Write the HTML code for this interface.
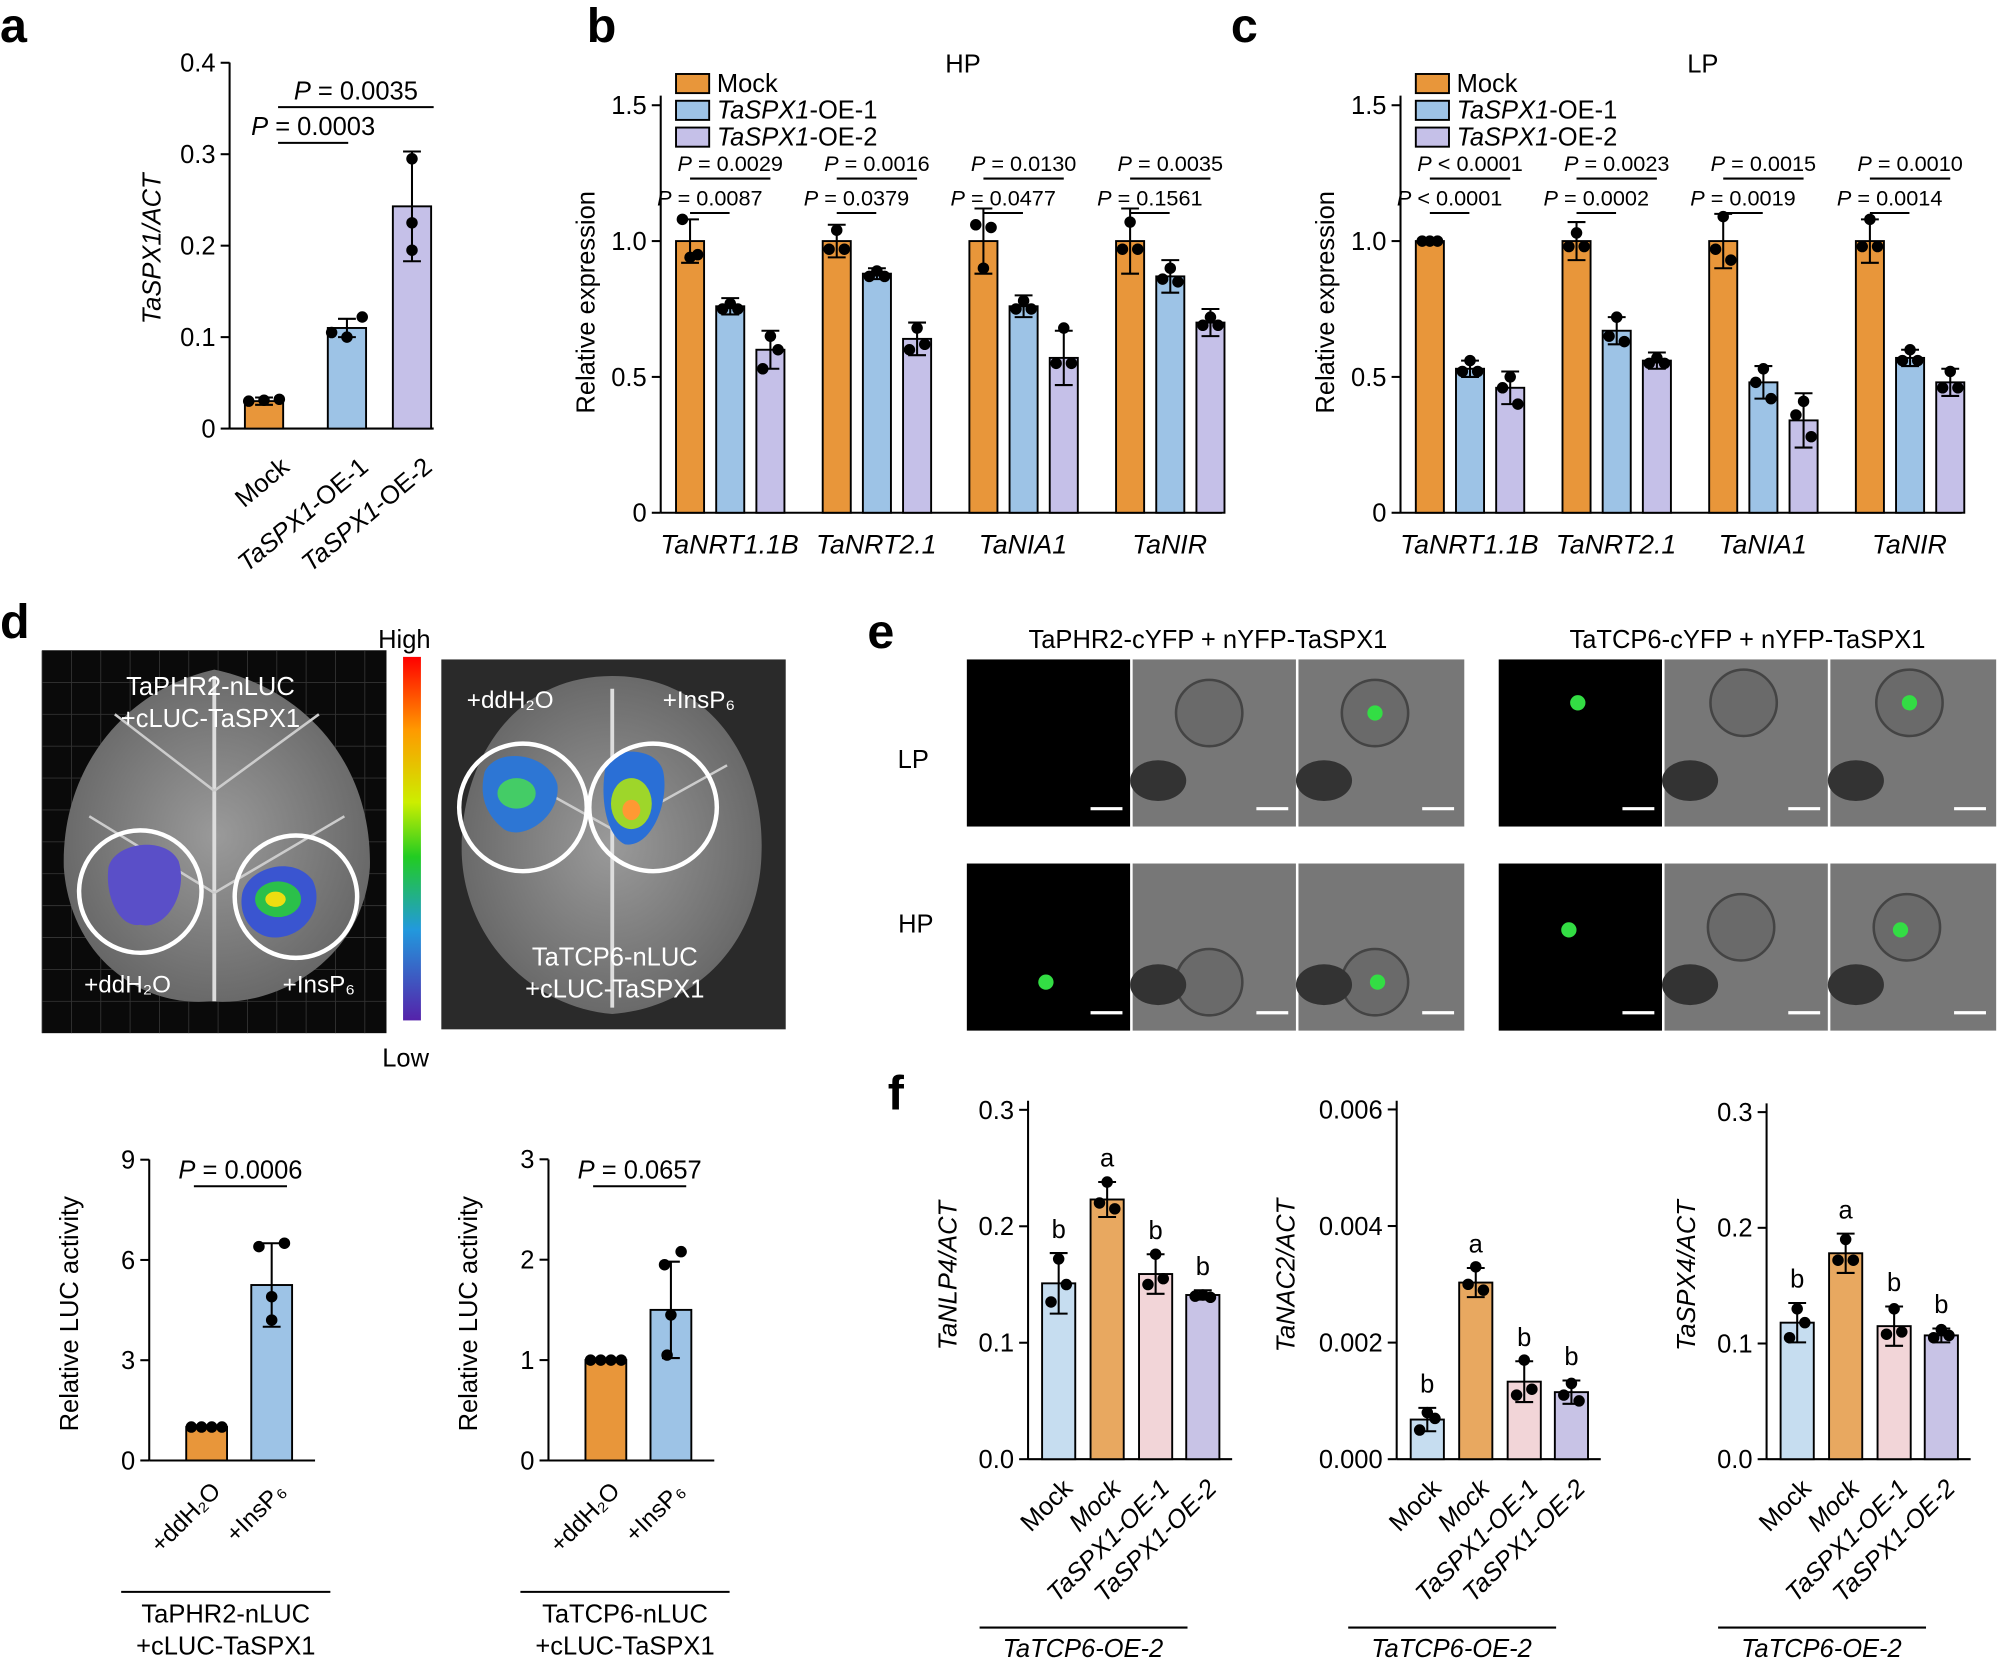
<!DOCTYPE html>
<html><head><meta charset="utf-8">
<style>
html,body{margin:0;padding:0;background:#fff;}
svg{display:block;font-family:"Liberation Sans",Arial,sans-serif;}
</style></head><body>
<div id="wrap"></div>
<script>
var h='';
var OR='#E8963A',BL='#9DC3E6',LV='#C5C0E8',FB='#C6DDF0',FO='#E8A860',FP='#F2D5D8',FL='#C8C3E6';
function t(x,y,s,sz,opt){opt=opt||{};h+='<text x="'+x+'" y="'+y+'" font-size="'+sz+'"'+(opt.a?' text-anchor="'+opt.a+'"':'')+(opt.w?' font-weight="bold"':'')+(opt.i?' font-style="italic"':'')+(opt.r?' transform="rotate('+opt.r+' '+x+' '+y+')"':'')+(opt.f?' fill="'+opt.f+'"':'')+'>'+s+'</text>';}
function L(x1,y1,x2,y2,w,c){h+='<line x1="'+x1+'" y1="'+y1+'" x2="'+x2+'" y2="'+y2+'" stroke="'+(c||'#000')+'" stroke-width="'+(w||1.6)+'"/>';}
function R(x,y,w,hh,f,s){h+='<rect x="'+x+'" y="'+y+'" width="'+w+'" height="'+hh+'" fill="'+f+'"'+(s?' stroke="#000" stroke-width="1.5"':'')+'/>';}
function C(x,y,r,f){h+='<circle cx="'+x+'" cy="'+y+'" r="'+r+'" fill="'+(f||'#000')+'"/>';}
function bar(cx,w,y0,sc,v,e,col,dots){var y=y0-v*sc;R(cx-w/2,y,w,y0-y,col,1);
 var ey=e*sc;if(ey>0){L(cx,y-ey,cx,y+ey);L(cx-7,y-ey,cx+7,y-ey);L(cx-7,y+ey,cx+7,y+ey);}
 if(dots){for(var j=0;j<dots.length;j++){C(cx+dots[j][0],y0-dots[j][1]*sc,4.5);}}}
function yaxis(x,y0,sc,ticks,labs,sz,ytop){L(x,y0,x,ytop);for(var i=0;i<ticks.length;i++){var y=y0-ticks[i]*sc;L(x-7,y,x,y);t(x-11,y+7,labs[i],sz,{a:'end'});}}
function sig(x1,x2,y,txt,sz){L(x1,y,x2,y);t((x1+x2)/2,y-6,txt,sz,{a:'middle'});}
var P='<tspan font-style="italic">P</tspan>';
var IT=function(s){return '<tspan font-style="italic">'+s+'</tspan>';};
function safe(f){try{f();}catch(e){}}

safe(function(){
t(0,33,'a',38,{w:1});t(460,33,'b',38,{w:1});t(965,33,'c',38,{w:1});t(0,500,'d',38,{w:1});t(680,508,'e',38,{w:1});t(696,870,'f',38,{w:1});
});
// a
safe(function(){var x=180,y0=336,sc=717;yaxis(x,y0,sc,[0,.1,.2,.3,.4],['0','0.1','0.2','0.3','0.4'],20,49);L(x,y0,340,y0);
bar(207,30,y0,sc,.03,.004,OR,[[-12,.03],[0,.031],[12,.032]]);
bar(272,30,y0,sc,.11,.01,BL,[[-12,.105],[0,.1],[12,.122]]);
bar(323,30,y0,sc,.243,.06,LV,[[0,.295],[0,.225],[0,.195]]);
sig(218,273,112,P+' = 0.0003',20);sig(218,340,84,P+' = 0.0035',20);
t(126,195,'TaSPX1/ACT',20,{a:'middle',r:-90,i:1});
t(228,368,'Mock',20,{a:'end',r:-40});t(290,368,IT('TaSPX1')+'-OE-1',20,{a:'end',r:-40});t(340,368,IT('TaSPX1')+'-OE-2',20,{a:'end',r:-40});});
// b,c
function grp(x,cen,vals,errs,title,sigs,dotsAll){var y0=402,sc=213;yaxis(x,y0,sc,[0,.5,1,1.5],['0','0.5','1.0','1.5'],20,75);L(x,y0,x+440,y0);
 t(x+237,57,title,20,{a:'middle'});t(x-52,237,'Relative expression',20,{a:'middle',r:-90});
 R(x+12,58,26,15,OR,1);t(x+44,72,'Mock',20);R(x+12,79,26,15,BL,1);t(x+44,93,IT('TaSPX1')+'-OE-1',20);R(x+12,100,26,15,LV,1);t(x+44,114,IT('TaSPX1')+'-OE-2',20);
 var names=['TaNRT1.1B','TaNRT2.1','TaNIA1','TaNIR'];var cols=[OR,BL,LV];
 for(var i=0;i<cen.length;i++){var c=cen[i];for(var k=0;k<3;k++){bar(c+k*31.5,22,y0,sc,vals[i][k],errs[i][k],cols[k],dotsAll[i][k]);}
  t(c+31,434,names[i],21,{a:'middle',i:1});
  sig(c,c+63,140,P+sigs[i][0],17);sig(c,c+31,167,P+sigs[i][1],17);}}
safe(function(){grp(518,[541,656,771,886],[[1,.76,.60],[1,.88,.64],[1,.76,.57],[1,.87,.70]],[[.08,.03,.07],[.06,.02,.06],[.12,.04,.1],[.12,.06,.05]],'HP',
 [[' = 0.0029',' = 0.0087'],[' = 0.0016',' = 0.0379'],[' = 0.0130',' = 0.0477'],[' = 0.0035',' = 0.1561']],
 [[[[-6,1.08],[6,.95],[0,.94]],[[0,.77],[6,.75],[-6,.75]],[[0,.65],[-6,.53],[6,.6]]],
  [[[0,1.04],[-6,.97],[6,.97]],[[0,.89],[-6,.87],[6,.87]],[[0,.68],[6,.62],[-6,.6]]],
  [[[-6,1.06],[6,1.05],[0,.9]],[[0,.78],[-6,.75],[6,.75]],[[0,.68],[-6,.55],[6,.55]]],
  [[[0,1.07],[-6,.97],[6,.97]],[[0,.9],[-6,.86],[6,.85]],[[0,.72],[-6,.69],[6,.69]]]]);});
safe(function(){grp(1098,[1121,1236,1351,1466],[[1,.53,.46],[1,.67,.56],[1,.48,.34],[1,.57,.48]],[[.01,.03,.06],[.07,.05,.03],[.1,.06,.1],[.08,.03,.05]],'LP',
 [[' &lt; 0.0001',' &lt; 0.0001'],[' = 0.0023',' = 0.0002'],[' = 0.0015',' = 0.0019'],[' = 0.0010',' = 0.0014']],
 [[[[-6,1.0],[0,1.0],[6,1.0]],[[0,.56],[-6,.52],[6,.52]],[[0,.5],[-6,.46],[6,.4]]],
  [[[0,1.03],[-6,.98],[6,.98]],[[0,.72],[-6,.65],[6,.63]],[[0,.57],[-6,.55],[6,.55]]],
  [[[0,1.09],[-6,.97],[6,.93]],[[0,.53],[-6,.48],[6,.42]],[[0,.41],[-6,.36],[6,.28]]],
  [[[0,1.08],[-6,.98],[6,.98]],[[0,.6],[-6,.56],[6,.56]],[[0,.52],[-6,.46],[6,.46]]]]);});
// d images
safe(function(){
R(33,510,270,300,'#0a0a0a');
for(var i=0;i<12;i++){L(33+i*23,510,33+i*23,810,0.7,'#333');L(33,510+i*25,303,510+i*25,0.7,'#333');}
h+='<path d="M168,525 C100,540 48,600 50,680 C55,750 110,790 165,785 C220,790 285,750 290,680 C292,600 240,540 168,525 Z" fill="url(#leaf)"/>';
L(168,530,168,785,3,'#ddd');L(168,620,90,560,2,'#ccc');L(168,620,250,560,2,'#ccc');L(168,700,70,640,2,'#ccc');L(168,700,270,640,2,'#ccc');
h+='<path d="M85,680 C90,660 130,655 140,675 C148,700 130,730 110,725 C95,728 82,705 85,680Z" fill="#5a4fc8"/>';
h+='<path d="M190,700 C195,680 230,670 245,690 C255,710 240,735 215,735 C200,735 186,720 190,700Z" fill="#3a55d0"/><ellipse cx="218" cy="705" rx="18" ry="14" fill="#2bc04a"/><ellipse cx="216" cy="705" rx="8" ry="6" fill="#eedd11"/>';
h+='<circle cx="110" cy="699" r="48" fill="none" stroke="#fff" stroke-width="3.5"/><circle cx="232" cy="703" r="48" fill="none" stroke="#fff" stroke-width="3.5"/>';
t(165,545,'TaPHR2-nLUC',20,{a:'middle',f:'#fff'});t(165,570,'+cLUC-TaSPX1',20,{a:'middle',f:'#fff'});
t(100,778,'+ddH₂O',19,{a:'middle',f:'#fff'});t(250,778,'+InsP₆',19,{a:'middle',f:'#fff'});
R(346,517,270,290,'#2a2a2a');
h+='<path d="M480,530 C400,530 360,600 362,670 C365,740 420,790 480,795 C545,790 595,740 597,670 C600,600 560,530 480,530 Z" fill="url(#leaf)"/>';
L(480,540,480,790,3,'#ddd');L(480,650,390,600,2,'#ccc');L(480,650,570,600,2,'#ccc');
h+='<path d="M380,605 C390,585 430,590 437,615 C440,640 410,660 395,650 C382,640 375,625 380,605Z" fill="#2d76d4"/><ellipse cx="405" cy="622" rx="15" ry="12" fill="#44cc66"/>';
h+='<path d="M475,600 C480,585 515,585 520,605 C525,630 510,665 490,662 C475,655 470,625 475,600Z" fill="#2a6fd6"/><ellipse cx="495" cy="630" rx="16" ry="20" fill="#9ed62a"/><ellipse cx="495" cy="635" rx="7" ry="8" fill="#ff9933"/>';
h+='<circle cx="410" cy="633" r="50" fill="none" stroke="#fff" stroke-width="3.5"/><circle cx="512" cy="633" r="50" fill="none" stroke="#fff" stroke-width="3.5"/>';
t(400,555,'+ddH₂O',19,{a:'middle',f:'#fff'});t(548,555,'+InsP₆',19,{a:'middle',f:'#fff'});
t(482,757,'TaTCP6-nLUC',20,{a:'middle',f:'#fff'});t(482,782,'+cLUC-TaSPX1',20,{a:'middle',f:'#fff'});
R(316,515,14,285,'url(#cb)');t(317,508,'High',20,{a:'middle'});t(318,836,'Low',20,{a:'middle'});
});
function dch(x,sc,top,labs,ticks,v2,e2,sg,d2,d1){var y0=1145;yaxis(x,y0,sc,ticks,labs,20,top);L(x,y0,x+130,y0);
 bar(x+45,32,y0,sc,1,0,OR,d1);bar(x+96,32,y0,sc,v2,e2,BL,d2);sig(x+35,x+108,930,P+sg,20);
 t(x-56,1030,'Relative LUC activity',20,{a:'middle',r:-90});
 t(x+57,1170,'+ddH₂O',19,{a:'end',r:-45});t(x+108,1170,'+InsP₆',19,{a:'end',r:-45});
 L(x-22,1248,x+142,1248);}
safe(function(){
dch(117,26.2,909,['0','3','6','9'],[0,3,6,9],5.25,1.25,' = 0.0006',[[-10,6.4],[10,6.5],[0,4.2],[0,4.9]],[[-12,1],[-4,1],[4,1],[12,1]]);
t(177,1272,'TaPHR2-nLUC',20,{a:'middle'});t(177,1297,'+cLUC-TaSPX1',20,{a:'middle'});
dch(430,78.7,909,['0','1','2','3'],[0,1,2,3],1.5,.48,' = 0.0657',[[-5,1.95],[8,2.08],[0,1.45],[-3,1.05]],[[-12,1],[-4,1],[4,1],[12,1]]);
t(490,1272,'TaTCP6-nLUC',20,{a:'middle'});t(490,1297,'+cLUC-TaSPX1',20,{a:'middle'});
});
// e
function mic(x,y,gfp,cell){R(x,y,128,131,'#000');R(x+130,y,128,131,'#777');R(x+260,y,130,131,'#777');
 h+='<circle cx="'+(x+130+cell[0])+'" cy="'+(y+cell[1])+'" r="26" fill="#6a6a6a" stroke="#444" stroke-width="2"/><circle cx="'+(x+260+cell[0])+'" cy="'+(y+cell[1])+'" r="26" fill="#6a6a6a" stroke="#444" stroke-width="2"/>';
 h+='<ellipse cx="'+(x+150)+'" cy="'+(y+95)+'" rx="22" ry="16" fill="#333"/><ellipse cx="'+(x+280)+'" cy="'+(y+95)+'" rx="22" ry="16" fill="#333"/>';
 if(gfp){C(x+gfp[0],y+gfp[1],6,'#33dd44');C(x+260+gfp[0],y+gfp[1],6,'#33dd44');}
 var o=[0,130,260];for(var i=0;i<3;i++){L(x+o[i]+97,y+117,x+o[i]+122,y+117,2.5,'#fff');}}
safe(function(){
t(947,508,'TaPHR2-cYFP + nYFP-TaSPX1',20,{a:'middle'});t(1370,508,'TaTCP6-cYFP + nYFP-TaSPX1',20,{a:'middle'});
t(716,602,'LP',20,{a:'middle'});t(718,731,'HP',20,{a:'middle'});
mic(758,517,null,[60,42]);C(1078,559,6,'#33dd44');
mic(758,677,[62,93],[60,93]);
mic(1175,517,[62,34],[62,34]);
mic(1175,677,[55,52],[60,50]);
});
// f
function fch(x,top,labs,ticks,sc,vals,errs,letters,ylab,ddots,yo){var y0=1144;yaxis(x,y0,sc,ticks,labs,20,top);L(x,y0,x+160,y0);
 var cols=[FB,FO,FP,FL],cs=[x+24,x+62,x+100,x+137];
 for(var i=0;i<4;i++){bar(cs[i],26,y0,sc,vals[i],errs[i],cols[i],ddots[i]);t(cs[i],y0-(vals[i]+errs[i])*sc-12,letters[i],20,{a:'middle'});}
 t(x-yo,1000,ylab,20,{a:'middle',r:-90,i:1});
 t(cs[0]+12,1168,'Mock',20,{a:'end',r:-45});t(cs[1]+12,1168,'Mock',20,{a:'end',r:-45,i:1});
 t(cs[2]+12,1168,'TaSPX1-OE-1',20,{a:'end',r:-45,i:1});t(cs[3]+12,1168,'TaSPX1-OE-2',20,{a:'end',r:-45,i:1});
 L(x-38,1276,x+125,1276);t(x+43,1299,'TaTCP6-OE-2',20,{a:'middle',i:1});}
safe(function(){fch(806,863,['0.0','0.1','0.2','0.3'],[0,.1,.2,.3],913,[.151,.223,.159,.141],[.026,.015,.017,.004],['b','a','b','b'],'TaNLP4/ACT',
 [[[0,.172],[-6,.135],[6,.15]],[[0,.238],[-6,.22],[6,.215]],[[0,.176],[-6,.15],[6,.155]],[[0,.141],[-6,.14],[6,.139]]],56);});
safe(function(){fch(1095,863,['0.000','0.002','0.004','0.006'],[0,.002,.004,.006],45700,[.00068,.00303,.00133,.00115],[.0002,.00025,.00035,.0002],['b','a','b','b'],'TaNAC2/ACT',
 [[[0,.0008],[-6,.0005],[6,.0007]],[[0,.0033],[-6,.003],[6,.0029]],[[0,.0017],[-6,.0011],[6,.0012]],[[0,.0013],[-6,.0011],[6,.001]]],80);});
safe(function(){fch(1385,865,['0.0','0.1','0.2','0.3'],[0,.1,.2,.3],907,[.118,.178,.115,.107],[.017,.017,.017,.006],['b','a','b','b'],'TaSPX4/ACT',
 [[[0,.13],[-6,.105],[6,.118]],[[0,.19],[-6,.172],[6,.172]],[[0,.13],[-6,.108],[6,.11]],[[0,.112],[-6,.105],[6,.107]]],56);});

var defs='<defs><linearGradient id="cb" x1="0" y1="0" x2="0" y2="1"><stop offset="0" stop-color="#ff0000"/><stop offset="0.2" stop-color="#ff9900"/><stop offset="0.4" stop-color="#ccee00"/><stop offset="0.55" stop-color="#22cc22"/><stop offset="0.75" stop-color="#2299dd"/><stop offset="1" stop-color="#5522aa"/></linearGradient><radialGradient id="leaf" cx="0.5" cy="0.5" r="0.6"><stop offset="0" stop-color="#9a9a9a"/><stop offset="1" stop-color="#606060"/></radialGradient></defs>';
document.getElementById('wrap').innerHTML='<svg width="2000" height="1662" viewBox="0 0 1568 1303" xmlns="http://www.w3.org/2000/svg">'+defs+h+'</svg>';
</script>
</body></html>
